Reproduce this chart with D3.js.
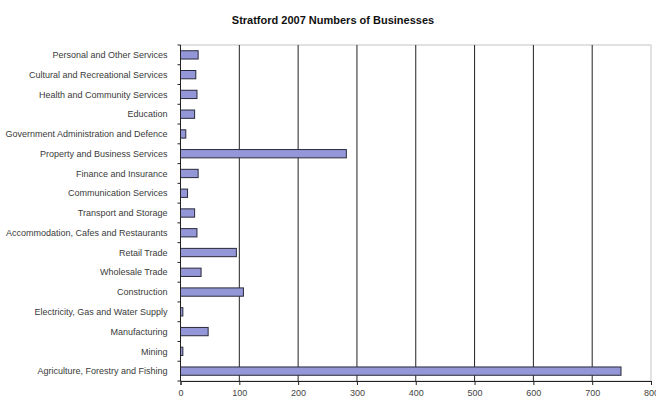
<!DOCTYPE html>
<html>
<head>
<meta charset="utf-8">
<script src="https://cdn.jsdelivr.net/npm/d3@7/dist/d3.min.js"></script>
<style>
  html, body { margin: 0; padding: 0; background: #fff; }
  svg { display: block; font-family: "Liberation Sans", Arial, sans-serif; }
</style>
</head>
<body>
<svg id="chart" width="656" height="399"></svg>
<script>
// Industry categories, top to bottom
const categories = [
  "Personal and Other Services",
  "Cultural and Recreational Services",
  "Health and Community Services",
  "Education",
  "Government Administration and Defence",
  "Property and Business Services",
  "Finance and Insurance",
  "Communication Services",
  "Transport and Storage",
  "Accommodation, Cafes and Restaurants",
  "Retail Trade",
  "Wholesale Trade",
  "Construction",
  "Electricity, Gas and Water Supply",
  "Manufacturing",
  "Mining",
  "Agriculture, Forestry and Fishing"
];

// Number of businesses per industry (2007)
const businesses = [30, 26, 28, 24, 9, 282, 30, 12, 24, 28, 95, 35, 107, 4, 47, 4, 749];

// X axis tick values
const xTicks = [0, 100, 200, 300, 400, 500, 600, 700, 800];

const title = "Stratford 2007 Numbers of Businesses";

const svg = d3.select("#chart");
const plot = { left: 180.5, right: 651, top: 45, bottom: 381 };

const x = d3.scaleLinear().domain([0, 800]).range([plot.left, plot.right]);
const y = d3.scaleBand().domain(categories).range([plot.top, plot.bottom]).paddingInner(0.58).paddingOuter(0.29);
const band = d3.scaleBand().domain(categories).range([plot.top, plot.bottom]);

// Title
svg.append("text")
  .attr("x", 333)
  .attr("y", 24)
  .attr("text-anchor", "middle")
  .attr("font-weight", "bold")
  .attr("font-size", "11px")
  .attr("fill", "#111")
  .text(title);

// Plot area border
svg.append("rect")
  .attr("x", plot.left)
  .attr("y", plot.top)
  .attr("width", plot.right - plot.left)
  .attr("height", plot.bottom - plot.top)
  .attr("fill", "none")
  .attr("stroke", "#c4c4c4")
  .attr("stroke-width", 1);

// Vertical gridlines
svg.append("g")
  .selectAll("line")
  .data(xTicks.filter(d => d > 0 && d < 800))
  .join("line")
  .attr("x1", d => x(d)).attr("x2", d => x(d))
  .attr("y1", plot.top).attr("y2", plot.bottom)
  .attr("stroke", "#222")
  .attr("stroke-width", 1);

// Bars
svg.append("g")
  .selectAll("rect")
  .data(categories)
  .join("rect")
  .attr("x", x(0))
  .attr("y", d => y(d))
  .attr("width", (d, i) => x(businesses[i]) - x(0))
  .attr("height", y.bandwidth())
  .attr("fill", "#9397d8")
  .attr("stroke", "#2a2a3a")
  .attr("stroke-width", 1);

// Category axis: labels centred on each band, ticks on band boundaries
const yAxis = svg.append("g");
yAxis.append("line")
  .attr("x1", plot.left).attr("x2", plot.left)
  .attr("y1", plot.top).attr("y2", plot.bottom)
  .attr("stroke", "#222");
yAxis.selectAll("line.tick")
  .data(categories.concat([null]))
  .join("line")
  .attr("class", "tick")
  .attr("x1", plot.left - 3).attr("x2", plot.left)
  .attr("y1", (d, i) => plot.top + i * band.step())
  .attr("y2", (d, i) => plot.top + i * band.step())
  .attr("stroke", "#222");
yAxis.selectAll("text")
  .data(categories)
  .join("text")
  .attr("x", plot.left - 13)
  .attr("y", d => band(d) + band.bandwidth() / 2)
  .attr("dy", "0.35em")
  .attr("text-anchor", "end")
  .attr("font-size", "9px")
  .attr("fill", "#3a3a3a")
  .text(d => d);

// Value axis along the bottom
const xAxis = d3.axisBottom(x).tickValues(xTicks).tickSize(4).tickPadding(5).tickFormat(d3.format("d"));
const gx = svg.append("g")
  .attr("transform", `translate(0,${plot.bottom})`)
  .call(xAxis);
gx.select(".domain").attr("stroke", "#222");
gx.selectAll(".tick line").attr("stroke", "#222");
gx.selectAll(".tick text")
  .attr("font-size", "9px")
  .attr("font-family", "\"Liberation Sans\", Arial, sans-serif")
  .attr("fill", "#444");
</script>
</body>
</html>
